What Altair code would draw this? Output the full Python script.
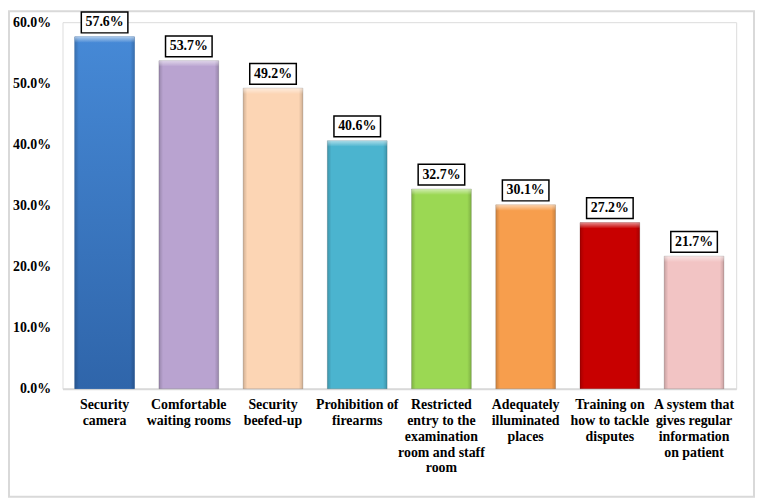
import altair as alt
import pandas as pd

categories = [
    "Security\ncamera",
    "Comfortable\nwaiting rooms",
    "Security\nbeefed-up",
    "Prohibition of\nfirearms",
    "Restricted\nentry to the\nexamination\nroom and staff\nroom",
    "Adequately\nilluminated\nplaces",
    "Training on\nhow to tackle\ndisputes",
    "A system that\ngives regular\ninformation\non patient",
]
values = [57.6, 53.7, 49.2, 40.6, 32.7, 30.1, 27.2, 21.7]
colors = ["#3b7bcc", "#b9a3d0", "#fcd5b4", "#4bb4cf", "#9bd853", "#f79e4d", "#c80000", "#f2c4c4"]
y_ticks = [0, 0.1, 0.2, 0.3, 0.4, 0.5, 0.6]

df = pd.DataFrame({
    "cat": categories,
    "val": [v / 100 for v in values],
    "label": [f"{v:.1f}%" for v in values],
})

FONT = "'Liberation Serif', 'Times New Roman', 'DejaVu Serif', serif"

x_enc = alt.X(
    "cat:N",
    sort=categories,
    scale=alt.Scale(paddingInner=0.29, paddingOuter=0.145),
    axis=alt.Axis(
        title=None, labelAngle=0, ticks=False, domainColor="#d9d9d9", domainWidth=2,
        labelExpr="split(datum.label, '\\n')", labelFont=FONT, labelFontSize=14,
        labelFontWeight="bold", labelColor="black", labelPadding=9, labelLineHeight=16,
        labelBaseline="top",
    ),
)
y_scale = alt.Scale(domain=[0, 0.6], nice=False)
y_enc = alt.Y(
    "val:Q",
    scale=y_scale,
    axis=alt.Axis(
        title=None, values=y_ticks, format=".1%", grid=False, domain=False, ticks=False,
        labelFont=FONT, labelFontSize=14, labelFontWeight="bold", labelColor="black",
        labelPadding=12,
    ),
)

base = alt.Chart(df)

bars = base.mark_bar(strokeWidth=1, stroke="rgba(0,0,0,0.15)").encode(
    x=x_enc,
    y=y_enc,
    color=alt.Color("cat:N", sort=categories, scale=alt.Scale(domain=categories, range=colors), legend=None),
)

blue = base.transform_filter(alt.datum.cat == categories[0]).mark_bar(
    color=alt.Gradient(
        gradient="linear",
        stops=[alt.GradientStop(color="#4689d6", offset=0), alt.GradientStop(color="#2f65aa", offset=1)],
        x1=0, x2=0, y1=0, y2=1,
    )
).encode(x=alt.X("cat:N", sort=categories), y=alt.Y("val:Q", scale=y_scale))

edges = base.mark_bar(
    color=alt.Gradient(
        gradient="linear",
        stops=[
            alt.GradientStop(color="rgba(0,0,0,0.18)", offset=0),
            alt.GradientStop(color="rgba(0,0,0,0)", offset=0.07),
            alt.GradientStop(color="rgba(0,0,0,0)", offset=0.93),
            alt.GradientStop(color="rgba(0,0,0,0.18)", offset=1),
        ],
        x1=0, x2=1, y1=0, y2=0,
    )
).encode(x=alt.X("cat:N", sort=categories), y=alt.Y("val:Q", scale=y_scale))

bevel = base.mark_bar(
    y2Offset=6,
    color=alt.Gradient(
        gradient="linear",
        stops=[
            alt.GradientStop(color="rgba(255,255,255,0.55)", offset=0),
            alt.GradientStop(color="rgba(255,255,255,0)", offset=1),
        ],
        x1=0, x2=0, y1=0, y2=1,
    ),
).encode(x=alt.X("cat:N", sort=categories), y=alt.Y("val:Q", scale=y_scale), y2="val:Q")

boxes = base.mark_bar(
    width=47, yOffset=-4, y2Offset=-25, fill="white", stroke="black", strokeWidth=1.5,
).encode(x=alt.X("cat:N", sort=categories), y=alt.Y("val:Q", scale=y_scale), y2="val:Q")

texts = base.mark_text(
    font=FONT, fontSize=14, fontWeight="bold", color="black", baseline="middle", dy=-14.5,
).encode(x=alt.X("cat:N", sort=categories), y=alt.Y("val:Q", scale=y_scale), text="label:N")

border = alt.Chart(pd.DataFrame({"a": [0]})).mark_rect(
    fill=None, stroke="#d9d9d9", strokeWidth=2
).encode(x=alt.value(-54), x2=alt.value(698), y=alt.value(-11), y2=alt.value(479))

chart = alt.layer(border, bars, blue, edges, bevel, boxes, texts).properties(
    width=680,
    height=370,
    autosize=alt.AutoSizeParams(type="none"),
    padding={"left": 55, "top": 12, "right": 19, "bottom": 110},
).configure_view(stroke=None).configure(background="white")

chart.save("out.html", embed_options={"renderer": "svg", "actions": False})
